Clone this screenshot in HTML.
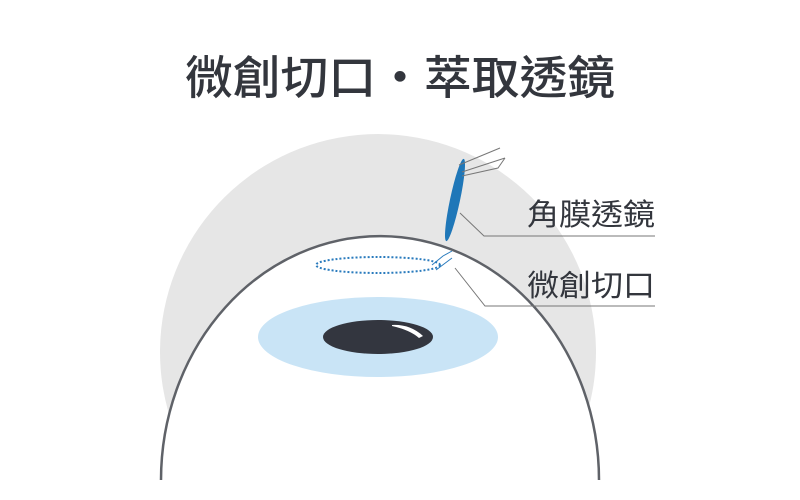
<!DOCTYPE html>
<html><head><meta charset="utf-8"><style>
html,body{margin:0;padding:0;background:#fff;width:800px;height:500px;overflow:hidden;}
svg{display:block;}
text{font-family:"Liberation Sans","Noto Sans CJK TC",sans-serif;fill:#33363d;}
</style></head><body>
<svg width="800" height="500" viewBox="0 0 800 500" xmlns="http://www.w3.org/2000/svg">
<text x="185" y="94" font-size="46" font-weight="500" textLength="430" lengthAdjust="spacingAndGlyphs">微創切口・萃取透鏡</text>
<path d="M201.5 480 A218 218 0 1 1 554.5 480 Z" fill="#e6e6e6"/>
<path d="M161 480 A219 244 0 0 1 599 480 Z" fill="#fff"/>
<path d="M161 480 A219 244 0 0 1 599 480" fill="none" stroke="#5f6268" stroke-width="2.5"/>
<ellipse cx="378" cy="337" rx="120" ry="40" fill="#c9e4f6"/>
<ellipse cx="378" cy="337" rx="55" ry="17" fill="#33363f"/>
<path d="M392 325 Q410 324 423 336 L419 338 Q410 330 392 326Z" fill="#fff"/>
<ellipse cx="378" cy="265" rx="62" ry="8" fill="none" stroke="#2a7bbd" stroke-width="2" stroke-dasharray="2 2"/>
<path d="M432 265 L443 256 L452 251 M436 270 L452 258" stroke="#2a7bbd" stroke-width="1" fill="none"/>
<ellipse cx="455" cy="200" rx="5" ry="42" fill="#1f77b8" transform="rotate(12 455 200)"/>
<path d="M459 165 L500 148 M462 172 L505 158 M462 176 L498 168 L505 158" stroke="#777" stroke-width="1" fill="none"/>
<path d="M460 213 L484 236 L655 236" stroke="#777" stroke-width="1" fill="none"/>
<path d="M455 268 L485 306 L655 306" stroke="#777" stroke-width="1" fill="none"/>
<text x="527" y="225" font-size="30" textLength="128" lengthAdjust="spacingAndGlyphs">角膜透鏡</text>
<text x="527" y="296" font-size="30" textLength="128" lengthAdjust="spacingAndGlyphs">微創切口</text>
</svg>
</body></html>
